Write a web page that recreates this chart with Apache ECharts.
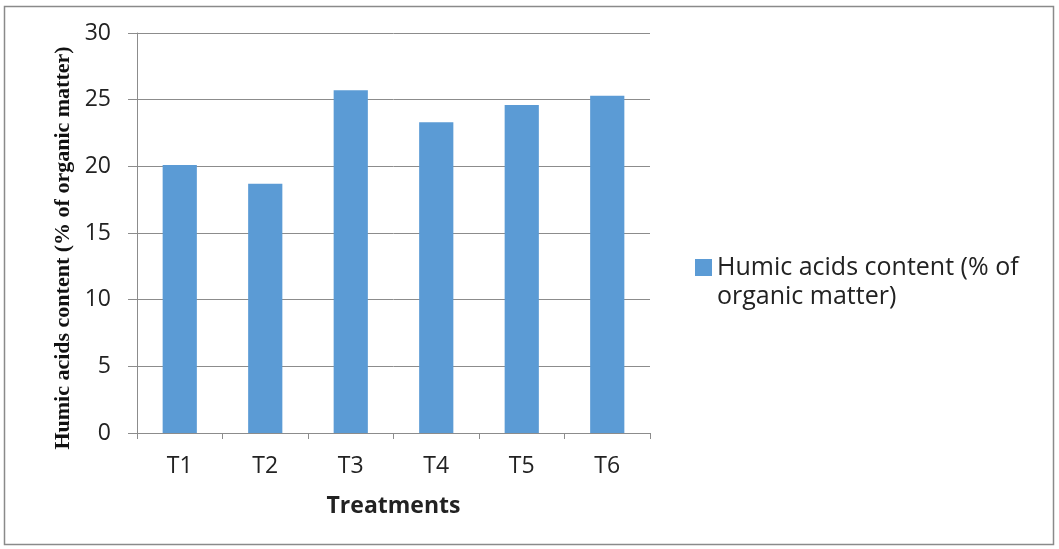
<!DOCTYPE html>
<html>
<head>
<meta charset="utf-8">
<script src="https://cdn.jsdelivr.net/npm/echarts@6/dist/echarts.min.js"></script>
<style>
  html, body { margin: 0; padding: 0; background: #ffffff; }
  #chart { width: 1059px; height: 549px; }
</style>
</head>
<body>
<div id="chart"></div>
<script>
// Treatments on the x axis
const categories = ['T1', 'T2', 'T3', 'T4', 'T5', 'T6'];
// Humic acids content, % of organic matter
const humicValues = [20.1, 18.7, 25.7, 23.3, 24.6, 25.3];
const seriesName = 'Humic acids content (% of organic matter)';
const yTicks = { min: 0, max: 30, interval: 5 };

const chart = echarts.init(document.getElementById('chart'), null, { renderer: 'canvas' });

chart.setOption({
  animation: false,
  backgroundColor: '#ffffff',
  graphic: [{
    type: 'rect',
    shape: { x: 4.5, y: 6.5, width: 1049, height: 538 },
    style: { fill: 'none', stroke: '#8a8a8a', lineWidth: 1.5 },
    silent: true
  }],
  grid: { left: 137, right: 409, top: 33, bottom: 116 },
  legend: {
    left: 695,
    top: 224,
    padding: 0,
    orient: 'vertical',
    itemWidth: 17,
    itemHeight: 17,
    itemGap: 0,
    icon: 'rect',
    // leading empty line keeps the swatch level with the first line of the wrapped label
    formatter: () => '\nHumic acids content (% of\norganic matter)',
    textStyle: {
      fontFamily: 'Open Sans',
      fontSize: 25,
      color: '#222',
      lineHeight: 29
    },
    data: [seriesName]
  },
  xAxis: {
    type: 'category',
    data: categories,
    name: 'Treatments',
    nameLocation: 'middle',
    nameGap: 62,
    nameTextStyle: { fontFamily: 'Open Sans', fontSize: 23, fontWeight: 'bold', color: '#222' },
    axisLine: { lineStyle: { color: '#8c8c8c', width: 1 } },
    axisTick: { show: true, length: 6, lineStyle: { color: '#8c8c8c' } },
    axisLabel: { fontFamily: 'Open Sans', fontSize: 23, color: '#222', margin: 22 }
  },
  yAxis: {
    type: 'value',
    min: yTicks.min,
    max: yTicks.max,
    interval: yTicks.interval,
    name: 'Humic acids content (% of organic matter)',
    nameLocation: 'middle',
    nameGap: 63,
    nameTextStyle: {
      fontFamily: 'Liberation Serif',
      fontSize: 22,
      fontWeight: 'bold',
      color: '#111',
      padding: [0, 30, 0, 0]
    },
    axisLine: { show: true, lineStyle: { color: '#8c8c8c', width: 1 } },
    axisTick: { show: true, length: 9, lineStyle: { color: '#8c8c8c' } },
    axisLabel: { fontFamily: 'Open Sans', fontSize: 23, color: '#222', margin: 26 },
    splitLine: { show: true, lineStyle: { color: '#8c8c8c', width: 1 } }
  },
  series: [{
    name: seriesName,
    type: 'bar',
    data: humicValues,
    barWidth: '40%',
    itemStyle: { color: '#5b9bd5' }
  }]
});
</script>
</body>
</html>
